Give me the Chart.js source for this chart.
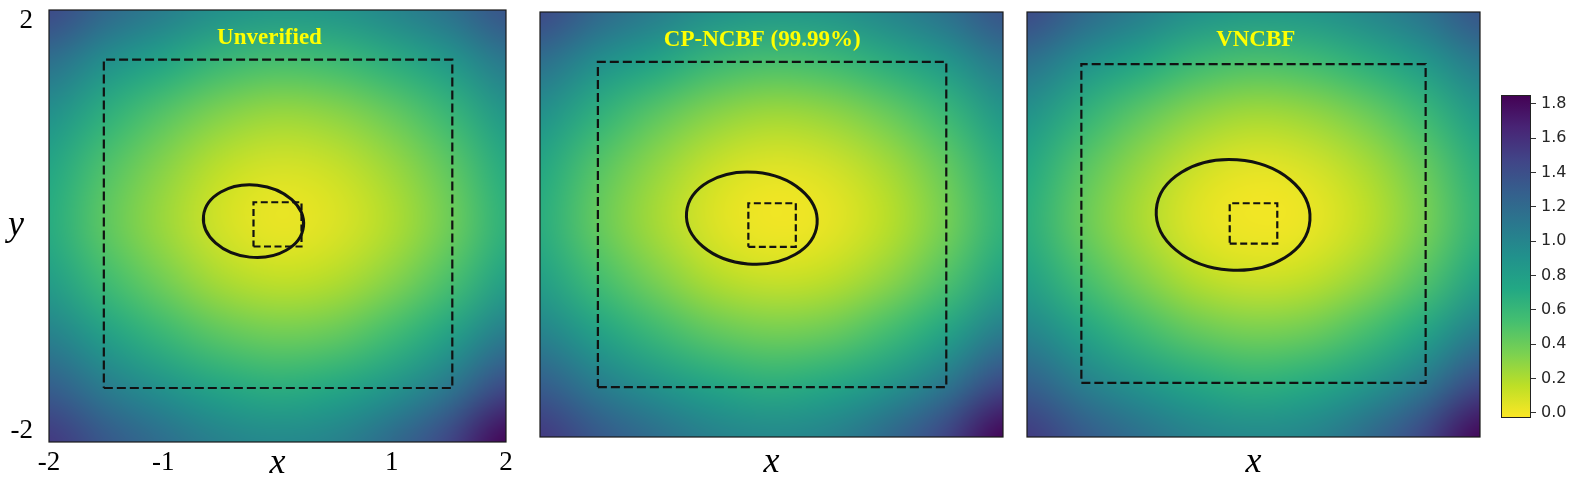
<!DOCTYPE html>
<html>
<head>
<meta charset="utf-8">
<script src="https://cdn.jsdelivr.net/npm/chart.js@4.4.0/dist/chart.umd.min.js"></script>
<style>
  body { margin: 0; background: #fff; width: 1578px; height: 482px; position: relative; overflow: hidden; }
  canvas { position: absolute; top: 0; }
</style>
</head>
<body>
<canvas id="panel1" width="530" height="482" style="left:0px"></canvas>
<canvas id="panel2" width="487" height="482" style="left:530px"></canvas>
<canvas id="panel3" width="473" height="482" style="left:1017px"></canvas>
<canvas id="colorbar" width="88" height="482" style="left:1490px"></canvas>
<script>
// Grid sample positions (x left->right, y top->bottom)
const gridX = [-2, -1.5, -1, -0.5, 0, 0.5, 1, 1.5, 2];
const gridY = [2, 1.5, 1, 0.5, 0, -0.5, -1, -1.5, -2];

// Field values (rows follow gridY)
const unverifiedValues = [
    [1.45, 1.23, 1.07, 0.92, 0.86, 0.89, 1.00, 1.15, 1.38],
    [1.15, 0.91, 0.74, 0.59, 0.52, 0.56, 0.67, 0.84, 1.09],
    [0.90, 0.65, 0.46, 0.31, 0.24, 0.28, 0.40, 0.58, 0.85],
    [0.74, 0.49, 0.30, 0.14, 0.07, 0.11, 0.24, 0.43, 0.70],
    [0.70, 0.44, 0.25, 0.09, 0.02, 0.06, 0.19, 0.38, 0.66],
    [0.81, 0.56, 0.37, 0.21, 0.14, 0.18, 0.31, 0.51, 0.79],
    [1.03, 0.79, 0.60, 0.45, 0.38, 0.42, 0.56, 0.77, 1.08],
    [1.30, 1.07, 0.90, 0.75, 0.68, 0.73, 0.88, 1.11, 1.45],
    [1.55, 1.34, 1.18, 1.04, 0.98, 1.03, 1.21, 1.47, 1.85],
];
const cpNcbfValues = [
    [1.45, 1.23, 1.07, 0.92, 0.86, 0.89, 1.00, 1.15, 1.38],
    [1.15, 0.91, 0.74, 0.58, 0.51, 0.55, 0.67, 0.84, 1.09],
    [0.90, 0.64, 0.44, 0.29, 0.22, 0.26, 0.38, 0.57, 0.85],
    [0.73, 0.47, 0.27, 0.11, 0.04, 0.08, 0.21, 0.41, 0.69],
    [0.69, 0.42, 0.22, 0.06, 0.00, 0.03, 0.16, 0.36, 0.65],
    [0.80, 0.54, 0.34, 0.18, 0.11, 0.15, 0.28, 0.49, 0.78],
    [1.02, 0.77, 0.58, 0.43, 0.36, 0.40, 0.54, 0.75, 1.07],
    [1.30, 1.06, 0.89, 0.74, 0.67, 0.72, 0.87, 1.10, 1.45],
    [1.55, 1.34, 1.18, 1.04, 0.98, 1.03, 1.21, 1.47, 1.85],
];
const vncbfValues = [
    [1.44, 1.22, 1.06, 0.91, 0.85, 0.88, 0.99, 1.14, 1.37],
    [1.14, 0.90, 0.72, 0.57, 0.50, 0.54, 0.66, 0.83, 1.08],
    [0.89, 0.63, 0.43, 0.28, 0.21, 0.25, 0.37, 0.56, 0.84],
    [0.72, 0.46, 0.26, 0.10, 0.03, 0.07, 0.20, 0.40, 0.68],
    [0.68, 0.41, 0.21, 0.05, 0.00, 0.02, 0.15, 0.35, 0.64],
    [0.79, 0.53, 0.33, 0.17, 0.10, 0.14, 0.27, 0.48, 0.77],
    [1.01, 0.76, 0.57, 0.42, 0.35, 0.39, 0.53, 0.74, 1.06],
    [1.29, 1.05, 0.88, 0.73, 0.66, 0.71, 0.86, 1.09, 1.44],
    [1.54, 1.33, 1.17, 1.03, 0.97, 1.02, 1.20, 1.46, 1.84],
];

const panelTitles = ['Unverified', 'CP-NCBF (99.99%)', 'VNCBF'];

// Dashed boxes: [min, max] per panel
const outerBoxX = [[-1.52, 1.53], [-1.50, 1.51], [-1.52, 1.52]];
const outerBoxY = [[-1.50, 1.54], [-1.53, 1.53], [-1.49, 1.51]];
const innerBoxX = [[-0.21, 0.21], [-0.20, 0.21], [-0.21, 0.21]];
const innerBoxY = [[-0.19, 0.22], [-0.21, 0.20], [-0.18, 0.20]];

// Zero level-set ellipses: centre, semi-axes, tilt (deg)
const ellipseCenter = [[-0.21, 0.045], [-0.17, 0.06], [-0.18, 0.09]];
const ellipseRadii = [[0.44, 0.335], [0.566, 0.433], [0.68, 0.52]];
const ellipseTilt = [6, 5, 4];

// Tick labels
const xTickValues = [-2, -1, 0, 1, 2];
const xTickLabels = ['-2', '-1', 'x', '1', '2'];
const yTickValues = [-2, 0, 2];
const yTickLabels = ['-2', 'y', '2'];
const cbTickValues = [0, 0.2, 0.4, 0.6, 0.8, 1.0, 1.2, 1.4, 1.6, 1.8];

const vMin = -0.03;
const vMax = 1.852;

// viridis colormap stops (low -> high)
const viridis = ['#440154', '#482475', '#414487', '#355f8d', '#2a788e', '#21918c',
                 '#22a884', '#44bf70', '#7ad151', '#bddf26', '#fde725'];

const hexToRgb = h => [1, 3, 5].map(i => parseInt(h.slice(i, i + 2), 16));
const viridisRgb = viridis.map(hexToRgb);

// reversed viridis: low values are yellow
function valueToRgb(v) {
    let t = 1 - (v - vMin) / (vMax - vMin);
    t = Math.max(0, Math.min(1, t));
    const pos = t * (viridisRgb.length - 1);
    const i = Math.min(Math.floor(pos), viridisRgb.length - 2);
    const f = pos - i;
    return viridisRgb[i].map((c, k) => Math.round(c + (viridisRgb[i + 1][k] - c) * f));
}

const tickFont = { family: '"Liberation Serif", serif', size: 27, lineHeight: 1.2 };
const tickFontY = { family: '"Liberation Serif", serif', size: 27, lineHeight: 0.8 };
const mathFont = { family: '"Liberation Serif", serif', size: 36, style: 'italic', lineHeight: 0.9 };

const heatmapPlugin = {
    id: 'heatmap',
    beforeDatasetsDraw(chart, args, opts) {
        if (!opts.values) return;
        const { ctx, chartArea, scales: { x, y } } = chart;
        const nx = gridX.length, ny = gridY.length;
        const off = document.createElement('canvas');
        off.width = nx;
        off.height = ny;
        const octx = off.getContext('2d');
        const img = octx.createImageData(nx, ny);
        opts.values.forEach((row, j) => {
            row.forEach((v, i) => {
                const [r, g, b] = valueToRgb(v);
                const p = (j * nx + i) * 4;
                img.data[p] = r; img.data[p + 1] = g; img.data[p + 2] = b; img.data[p + 3] = 255;
            });
        });
        octx.putImageData(img, 0, 0);

        const hx = (gridX[1] - gridX[0]) / 2;
        const hy = (gridY[0] - gridY[1]) / 2;
        const left = x.getPixelForValue(gridX[0] - hx);
        const right = x.getPixelForValue(gridX[nx - 1] + hx);
        const top = y.getPixelForValue(gridY[0] + hy);
        const bottom = y.getPixelForValue(gridY[ny - 1] - hy);

        ctx.save();
        ctx.beginPath();
        ctx.rect(chartArea.left, chartArea.top, chartArea.right - chartArea.left, chartArea.bottom - chartArea.top);
        ctx.clip();
        ctx.imageSmoothingEnabled = true;
        ctx.imageSmoothingQuality = 'high';
        ctx.drawImage(off, left, top, right - left, bottom - top);
        ctx.restore();
    },
    afterDatasetsDraw(chart, args, opts) {
        if (opts.panel === undefined) return;
        const i = opts.panel;
        const { ctx, chartArea, scales: { x, y } } = chart;

        // ellipse
        const [cx, cy] = ellipseCenter[i];
        const [rx, ry] = ellipseRadii[i];
        const px = x.getPixelForValue(cx), py = y.getPixelForValue(cy);
        ctx.save();
        ctx.strokeStyle = '#111';
        ctx.lineWidth = 3;
        ctx.beginPath();
        ctx.ellipse(px, py,
            Math.abs(x.getPixelForValue(cx + rx) - px),
            Math.abs(y.getPixelForValue(cy + ry) - py),
            ellipseTilt[i] * Math.PI / 180, 0, Math.PI * 2);
        ctx.stroke();

        // title
        ctx.fillStyle = '#ffff00';
        ctx.font = 'bold 23px "Liberation Serif", serif';
        ctx.textAlign = 'center';
        ctx.textBaseline = 'middle';
        ctx.fillText(panelTitles[i], x.getPixelForValue(opts.titleX), chartArea.top + 28);

        // frame
        ctx.strokeStyle = '#1a1a1a';
        ctx.lineWidth = 1.2;
        ctx.strokeRect(chartArea.left, chartArea.top, chartArea.right - chartArea.left, chartArea.bottom - chartArea.top);
        ctx.restore();
    }
};

function boxPoints(bx, by) {
    return [
        { x: bx[0], y: by[0] }, { x: bx[1], y: by[0] }, { x: bx[1], y: by[1] },
        { x: bx[0], y: by[1] }, { x: bx[0], y: by[0] },
    ];
}

// y end labels sit just inside the frame, as in the original figure
function yLabelFor(v) {
    const label = yTickLabels[yTickValues.indexOf(v)];
    if (label === 'y') return 'y ';
    return v > 0 ? ['', label] : [label, ''];
}

function makePanel(canvasId, i, values, cfg) {
    const boxStyle = {
        showLine: true, pointRadius: 0, borderColor: '#111', borderWidth: 2.2,
        borderCapStyle: 'butt', fill: false,
    };
    const xTicks = cfg.fullAxes ? xTickValues : [0];
    return new Chart(document.getElementById(canvasId), {
        type: 'scatter',
        data: {
            datasets: [
                { ...boxStyle, data: boxPoints(outerBoxX[i], outerBoxY[i]), borderDash: [9, 4] },
                { ...boxStyle, data: boxPoints(innerBoxX[i], innerBoxY[i]), borderDash: [7, 3.5] },
            ]
        },
        options: {
            responsive: false,
            animation: false,
            layout: { padding: cfg.padding },
            plugins: {
                legend: { display: false },
                tooltip: { enabled: false },
                heatmap: { values: values, panel: i, titleX: cfg.titleX },
            },
            scales: {
                x: {
                    type: 'linear', min: -2, max: 2,
                    afterBuildTicks: s => { s.ticks = xTicks.map(v => ({ value: v })); },
                    afterFit: s => {
                        s.height = cfg.xAxisHeight;
                        s.paddingLeft = 0;
                        s.paddingRight = 0;
                    },
                    grid: { display: false, drawTicks: false },
                    border: { display: false },
                    ticks: {
                        padding: cfg.xPad, color: '#000', autoSkip: false, maxRotation: 0, minRotation: 0,
                        callback: v => xTickLabels[xTickValues.indexOf(v)],
                        font: c => (c.tick && c.tick.value === 0) ? mathFont : tickFont,
                    }
                },
                y: {
                    type: 'linear', min: -2, max: 2,
                    display: cfg.fullAxes,
                    afterBuildTicks: s => { s.ticks = yTickValues.map(v => ({ value: v })); },
                    afterFit: s => {
                        if (cfg.fullAxes) s.width = 49;
                        s.paddingTop = 0;
                        s.paddingBottom = 0;
                    },
                    grid: { display: false, drawTicks: false },
                    border: { display: false },
                    ticks: {
                        padding: 16, color: '#000', autoSkip: false,
                        callback: yLabelFor,
                        font: c => (c.tick && c.tick.value === 0) ? mathFont : tickFontY,
                    }
                }
            }
        },
        plugins: [heatmapPlugin]
    });
}

const colorbarPlugin = {
    id: 'colorbarFill',
    beforeDatasetsDraw(chart) {
        const { ctx, chartArea, scales: { y } } = chart;
        const yBottom = y.getPixelForValue(vMin);
        const yTop = y.getPixelForValue(vMax);
        const grad = ctx.createLinearGradient(0, yBottom, 0, yTop);
        viridis.forEach((c, k) => grad.addColorStop(k / (viridis.length - 1), viridis[viridis.length - 1 - k]));
        ctx.save();
        ctx.fillStyle = grad;
        ctx.fillRect(chartArea.left, yTop, chartArea.right - chartArea.left, yBottom - yTop);
        ctx.strokeStyle = '#222';
        ctx.lineWidth = 1;
        ctx.strokeRect(chartArea.left + 0.5, yTop + 0.5, chartArea.right - chartArea.left - 1, yBottom - yTop - 1);
        ctx.restore();
    }
};

function makeColorbar() {
    return new Chart(document.getElementById('colorbar'), {
        type: 'scatter',
        data: { datasets: [] },
        options: {
            responsive: false,
            animation: false,
            layout: { padding: { left: 11, top: 95, bottom: 64, right: 0 } },
            plugins: { legend: { display: false }, tooltip: { enabled: false } },
            scales: {
                x: { display: false, min: 0, max: 1 },
                y: {
                    position: 'right', min: vMin, max: vMax,
                    afterBuildTicks: s => { s.ticks = cbTickValues.map(v => ({ value: v })); },
                    afterFit: s => { s.width = 47; },
                    grid: { drawOnChartArea: false, drawTicks: true, tickLength: 5, color: '#333', lineWidth: 1 },
                    border: { display: false },
                    ticks: {
                        padding: 5, color: '#262626',
                        font: { family: '"DejaVu Sans", sans-serif', size: 16 },
                        callback: v => v.toFixed(1),
                    }
                }
            }
        },
        plugins: [colorbarPlugin]
    });
}

makePanel('panel1', 0, unverifiedValues, {
    fullAxes: true, padding: { left: 0, right: 24, top: 10, bottom: 0 }, xAxisHeight: 40, xPad: 5, titleX: -0.07,
});
makePanel('panel2', 1, cpNcbfValues, {
    fullAxes: false, padding: { left: 10, right: 14, top: 12, bottom: 0 }, xAxisHeight: 45, xPad: 9, titleX: -0.08,
});
makePanel('panel3', 2, vncbfValues, {
    fullAxes: false, padding: { left: 10, right: 10, top: 12, bottom: 0 }, xAxisHeight: 45, xPad: 9, titleX: 0.02,
});
makeColorbar();
</script>
</body>
</html>
